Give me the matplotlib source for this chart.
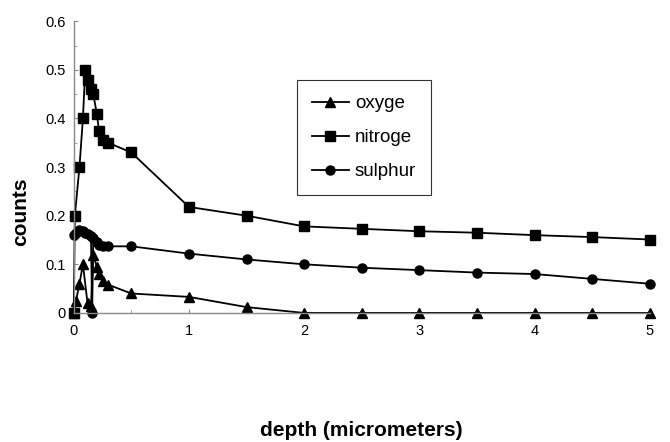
import matplotlib.pyplot as plt
from matplotlib.ticker import MultipleLocator

plt.rcParams['font.family'] = ['Liberation Sans', 'DejaVu Sans']

# depth profiles (micrometers) and counts
oxygen_x = [0, 0.02, 0.05, 0.08, 0.12, 0.15, 0.17, 0.2, 0.22, 0.25, 0.3, 0.5,
            1, 1.5, 2, 2.5, 3, 3.5, 4, 4.5, 5]
oxygen_y = [0, 0.025, 0.06, 0.1, 0.02, 0.015, 0.12, 0.095, 0.08, 0.065, 0.058, 0.04,
            0.033, 0.012, 0, 0, 0, 0, 0, 0, 0]

nitrogen_x = [0, 0.01, 0.05, 0.08, 0.1, 0.12, 0.15, 0.17, 0.2, 0.22, 0.25, 0.3, 0.5,
              1, 1.5, 2, 2.5, 3, 3.5, 4, 4.5, 5]
nitrogen_y = [0, 0.2, 0.3, 0.4, 0.5, 0.48, 0.46, 0.45, 0.41, 0.375, 0.355, 0.35, 0.33,
              0.218, 0.2, 0.178, 0.173, 0.168, 0.165, 0.16, 0.156, 0.151]

sulphur_x = [0, 0.02, 0.05, 0.08, 0.1, 0.12, 0.15, 0.16, 0.17, 0.2, 0.22, 0.25, 0.3, 0.5,
             1, 1.5, 2, 2.5, 3, 3.5, 4, 4.5, 5]
sulphur_y = [0.16, 0.165, 0.17, 0.168, 0.165, 0.163, 0.158, 0, 0.155, 0.145, 0.14, 0.137, 0.137, 0.137,
             0.122, 0.11, 0.1, 0.093, 0.088, 0.083, 0.08, 0.07, 0.06]

ytick_labels = ['0', '0.1', '0.2', '0.3', '0.4', '0.5', '0.6']

fig = plt.figure(figsize=(6.7, 4.42), dpi=100)
ax = fig.add_axes([0.110, 0.292, 0.860, 0.660])

ax.plot(oxygen_x, oxygen_y, '-^', c='black', lw=1.3, ms=6.5, label='oxyge', clip_on=False)
ax.plot(nitrogen_x, nitrogen_y, '-s', c='black', lw=1.3, ms=6.5, label='nitroge', clip_on=False)
ax.plot(sulphur_x, sulphur_y, '-o', c='black', lw=1.3, ms=6.5, label='sulphur', clip_on=False)

ax.set_xlim(0, 5)
ax.set_ylim(0, 0.6)
ax.xaxis.set_major_locator(MultipleLocator(1))
ax.xaxis.set_minor_locator(MultipleLocator(0.5))
ax.yaxis.set_minor_locator(MultipleLocator(0.05))
ax.set_yticks([0, 0.1, 0.2, 0.3, 0.4, 0.5, 0.6])
ax.set_yticklabels(ytick_labels)

for side in ['top', 'right']:
    ax.spines[side].set_visible(False)
for side in ['left', 'bottom']:
    ax.spines[side].set_color('#8a8a8a')
    ax.spines[side].set_linewidth(1.0)
ax.tick_params(which='both', direction='in', color='#8a8a8a', labelsize=10.5)
ax.tick_params(which='major', length=3)
ax.tick_params(which='minor', length=2)
ax.tick_params(axis='x', pad=8)
ax.tick_params(axis='y', pad=6)

ax.set_xlabel('depth (micrometers)', fontsize=15, fontweight='bold')
ax.xaxis.set_label_coords(0.5, -0.37)
ax.set_ylabel('counts', fontsize=15, fontweight='bold')
ax.yaxis.set_label_coords(-0.076, 0.346)

leg = ax.legend(loc='upper left', bbox_to_anchor=(0.387, 0.798), fontsize=13.5,
                frameon=True, fancybox=False, edgecolor='black', borderpad=0.8,
                labelspacing=0.9, handlelength=2.0, handletextpad=0.3, borderaxespad=0)
leg.get_frame().set_linewidth(0.8)

plt.savefig('out.png', dpi=100)
